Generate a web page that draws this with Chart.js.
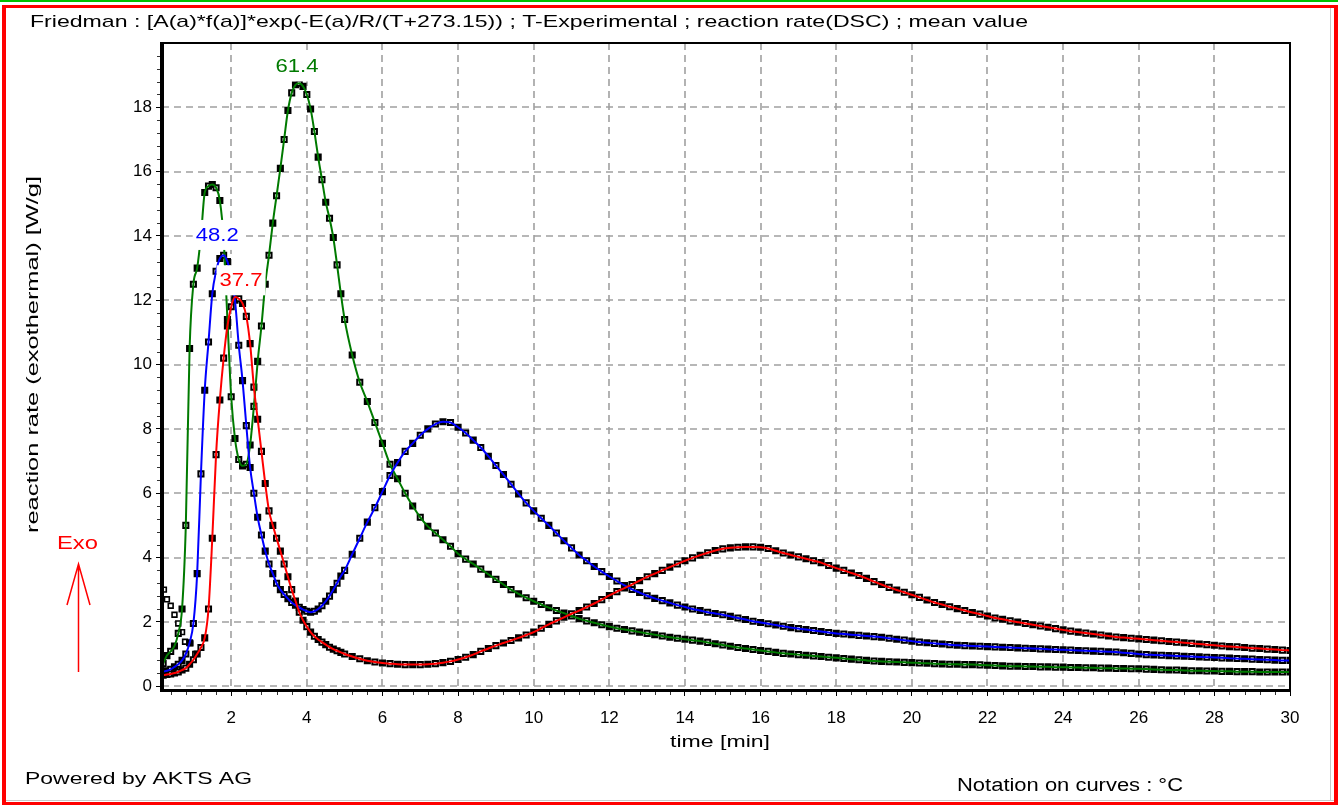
<!DOCTYPE html>
<html><head><meta charset="utf-8">
<script src="https://cdn.jsdelivr.net/npm/chart.js@4.4.0/dist/chart.umd.min.js"></script>
<style>html,body{margin:0;padding:0;background:#fff;overflow:hidden}#wrap{width:1338px;height:805px;position:relative}</style>
</head><body><div id="wrap"><canvas id="c" width="1338" height="805"></canvas></div>
<script>
// ---- data (time in min, reaction rate in W/g) ----
const timesEarly = [0.2,0.3,0.4,0.5,0.6,0.7,0.8,0.9,1.0,1.1,1.2,1.3,1.4,1.5,1.6,1.7,1.8,1.9,2.0,2.1,2.2,2.3,2.4,2.5,2.6,2.7,2.8,2.9,3.0,3.1,3.2,3.3,3.4,3.5,3.6,3.7,3.8,3.9,4.0,4.1,4.2,4.3,4.4,4.5,4.6,4.7,4.8,4.9];
const timesLate = [5.0,5.2,5.4,5.6,5.8,6.0,6.2,6.4,6.6,6.8,
  7.0,7.2,7.4,7.6,7.8,8.0,8.2,8.4,8.6,8.8,
  9.0,9.2,9.4,9.6,9.8,10.0,10.2,10.4,10.6,10.8,
  11.0,11.2,11.4,11.6,11.8,12.0,12.2,12.4,12.6,12.8,
  13.0,13.2,13.4,13.6,13.8,14.0,14.2,14.4,14.6,14.8,
  15.0,15.2,15.4,15.6,15.8,16.0,16.2,16.4,16.6,16.8,
  17.0,17.2,17.4,17.6,17.8,18.0,18.2,18.4,18.6,18.8,
  19.0,19.2,19.4,19.6,19.8,20.0,20.2,20.4,20.6,20.8,
  21.0,21.2,21.4,21.6,21.8,22.0,22.2,22.4,22.6,22.8,
  23.0,23.2,23.4,23.6,23.8,24.0,24.2,24.4,24.6,24.8,
  25.0,25.2,25.4,25.6,25.8,26.0,26.2,26.4,26.6,26.8,
  27.0,27.2,27.4,27.6,27.8,28.0,28.2,28.4,28.6,28.8,
  29.0,29.2,29.4,29.6,29.8,30.0];

// 37.7 °C (red)
const red377Early = [0.34,0.36,0.38,0.41,0.44,0.5,0.56,0.68,0.82,1.0,
  1.2,1.5,2.4,4.6,7.2,8.9,10.2,11.2,11.8,12.1,
  12.05,11.9,11.5,10.65,9.3,8.3,7.3,6.3,5.45,5.0,
  4.6,4.2,3.8,3.4,3.0,2.65,2.3,2.05,1.85,1.68,
  1.55,1.45,1.37,1.29,1.21,1.15,1.1,1.05];
const red377Late = [1.0,0.92,0.85,0.79,0.75,0.72,0.7,0.68,0.67,0.67,
  0.67,0.68,0.7,0.73,0.77,0.83,0.9,0.98,1.08,1.17,
  1.26,1.34,1.42,1.5,1.59,1.68,1.8,1.92,2.03,2.14,
  2.25,2.35,2.46,2.57,2.69,2.82,2.94,3.05,3.16,3.28,
  3.4,3.5,3.6,3.7,3.8,3.9,3.99,4.07,4.15,4.22,
  4.27,4.3,4.32,4.33,4.33,4.32,4.28,4.21,4.14,4.08,
  4.02,3.96,3.9,3.84,3.75,3.67,3.6,3.52,3.44,3.35,
  3.25,3.16,3.07,2.99,2.92,2.84,2.76,2.68,2.6,2.54,
  2.47,2.41,2.35,2.29,2.24,2.18,2.12,2.08,2.03,1.99,
  1.95,1.91,1.87,1.83,1.79,1.75,1.71,1.68,1.65,1.62,
  1.59,1.56,1.53,1.51,1.49,1.47,1.45,1.43,1.41,1.39,
  1.37,1.35,1.33,1.31,1.29,1.27,1.25,1.23,1.22,1.2,
  1.18,1.17,1.15,1.14,1.12,1.11];

// 48.2 °C (blue)
const blue482Early = [0.45,0.48,0.52,0.6,0.68,0.8,1.0,1.35,1.95,3.5,
  6.6,9.2,10.7,12.2,12.9,13.3,13.4,13.2,12.7,12.0,
  10.6,9.5,8.1,6.8,6.0,5.25,4.7,4.2,3.8,3.5,
  3.2,3.0,2.85,2.72,2.6,2.52,2.45,2.38,2.33,2.3,
  2.33,2.4,2.5,2.64,2.8,3.0,3.2,3.42];
const blue482Late = [3.6,4.1,4.6,5.1,5.55,6.05,6.55,6.95,7.3,7.55,
  7.8,8.0,8.15,8.22,8.2,8.05,7.87,7.65,7.42,7.15,
  6.86,6.58,6.28,5.98,5.7,5.45,5.22,5.0,4.76,4.52,
  4.3,4.08,3.9,3.72,3.56,3.41,3.27,3.13,3.01,2.91,
  2.81,2.73,2.66,2.59,2.52,2.46,2.4,2.35,2.3,2.26,
  2.22,2.17,2.12,2.07,2.02,1.98,1.94,1.9,1.86,1.82,
  1.79,1.76,1.73,1.7,1.67,1.64,1.62,1.6,1.58,1.56,
  1.54,1.52,1.49,1.46,1.43,1.4,1.37,1.35,1.33,1.31,
  1.29,1.27,1.26,1.25,1.24,1.23,1.22,1.21,1.2,1.19,
  1.18,1.17,1.16,1.15,1.14,1.13,1.12,1.11,1.1,1.09,
  1.08,1.07,1.06,1.04,1.02,1.0,0.98,0.97,0.96,0.95,
  0.94,0.93,0.92,0.91,0.9,0.89,0.88,0.87,0.86,0.85,
  0.84,0.83,0.82,0.81,0.8,0.8];

// 61.4 °C (green)
const green614Early = [0.7,0.95,1.08,1.25,1.64,2.4,5.0,10.5,12.5,13.0,
  14.0,15.35,15.55,15.6,15.5,15.1,13.9,11.4,9.0,7.7,
  7.05,6.85,6.9,7.5,8.7,10.1,11.2,12.5,13.4,14.4,
  15.25,16.1,17.0,17.9,18.45,18.7,18.75,18.65,18.4,17.95,
  17.25,16.45,15.75,15.05,14.55,13.95,13.1,12.2];
const green614Late = [11.4,10.3,9.45,8.85,8.2,7.55,6.9,6.45,6.0,5.6,
  5.25,4.97,4.76,4.55,4.35,4.12,3.95,3.8,3.64,3.48,
  3.32,3.16,3.0,2.87,2.75,2.64,2.54,2.44,2.35,2.27,
  2.18,2.1,2.03,1.97,1.91,1.85,1.8,1.76,1.72,1.68,
  1.64,1.6,1.56,1.52,1.49,1.46,1.43,1.4,1.36,1.32,
  1.28,1.24,1.2,1.17,1.14,1.11,1.08,1.05,1.02,1.0,
  0.98,0.96,0.94,0.92,0.9,0.88,0.86,0.84,0.82,0.8,
  0.78,0.77,0.76,0.75,0.74,0.73,0.72,0.71,0.7,0.69,
  0.68,0.68,0.67,0.67,0.66,0.65,0.64,0.63,0.62,0.62,
  0.61,0.61,0.6,0.6,0.59,0.59,0.58,0.58,0.57,0.57,
  0.56,0.56,0.55,0.55,0.54,0.54,0.53,0.52,0.51,0.5,
  0.5,0.49,0.48,0.48,0.47,0.47,0.46,0.46,0.45,0.45,
  0.45,0.44,0.44,0.44,0.44,0.44];

// extra experimental points at the very start
const expStartT = [0.22,0.3,0.4,0.5,0.6,0.7,0.78,0.92,1.05];
const expStartV = [3.0,2.7,2.5,2.22,1.95,1.68,1.38,1.33,1.0];

// curve annotations (°C)
const curveLabels = ['37.7','48.2','61.4'];
const curveLabelT = [2.26,1.63,3.74];
const curveLabelV = [12.59,14.0,19.24];
const curveColors = ['#ff0000','#0000ff','#007a00'];

// axes
const xTicks = [2,4,6,8,10,12,14,16,18,20,22,24,26,28,30];
const yTicks = [0,2,4,6,8,10,12,14,16,18];

// ---- build ----
const times = timesEarly.concat(timesLate);
const pts = (ts, vs) => ts.map((t, i) => ({x: t, y: vs[i]}));
const series = [
  red377Early.concat(red377Late),
  blue482Early.concat(blue482Late),
  green614Early.concat(green614Late)
];
const FONT = '"Liberation Sans", Arial, sans-serif';

const datasets = [];
series.forEach((vals, i) => {
  datasets.push({
    label: curveLabels[i], data: pts(times, vals), showLine: true,
    borderColor: curveColors[i], borderWidth: 2, pointRadius: 0,
    cubicInterpolationMode: 'monotone', order: 0
  });
});
series.forEach((vals, i) => {
  datasets.push({
    label: curveLabels[i] + ' exp', data: pts(times, vals), showLine: false,
    pointStyle: 'rect', pointRadius: 3.6, borderColor: '#000', borderWidth: 2,
    pointBackgroundColor: c => (c.dataIndex % 2 ? '#000' : '#fff'), order: 1
  });
});
datasets.push({
  label: 'exp start', data: pts(expStartT, expStartV), showLine: false,
  pointStyle: 'rect', pointRadius: 3.4, borderColor: '#000', borderWidth: 1.6,
  pointBackgroundColor: '#fff', order: 1
});

function fitText(ctx, txt, x, y, w, font, color) {
  ctx.save();
  ctx.font = font; ctx.fillStyle = color; ctx.textBaseline = 'middle'; ctx.textAlign = 'left';
  const m = ctx.measureText(txt).width;
  ctx.translate(x, y); ctx.scale(w / m, 1);
  ctx.fillText(txt, 0, 0);
  ctx.restore();
}

const deco = {
  id: 'deco',
  beforeDraw(chart) {
    const ctx = chart.ctx;
    ctx.save();
    ctx.fillStyle = '#fff'; ctx.fillRect(0, 0, 1338, 805);
    ctx.fillStyle = '#00c000'; ctx.fillRect(0, 0, 1338, 2);
    ctx.fillStyle = '#ff0000';
    ctx.fillRect(2, 5, 4, 800); ctx.fillRect(2, 5, 1336, 3);
    ctx.fillRect(1334, 5, 4, 800); ctx.fillRect(2, 802, 1336, 3);
    ctx.fillStyle = '#c8c8c8'; ctx.fillRect(6, 800, 1328, 1); ctx.fillRect(1330, 8, 1, 793);
    ctx.restore();
  },
  beforeDatasetsDraw(chart) {
    const ctx = chart.ctx, xs = chart.scales.x, ys = chart.scales.y, a = chart.chartArea;
    ctx.save();
    ctx.strokeStyle = '#a0a0a0'; ctx.lineWidth = 1.6; ctx.setLineDash([7, 5]);
    xTicks.forEach(v => {
      if (v >= 30) return;
      const px = Math.round(xs.getPixelForValue(v));
      ctx.beginPath(); ctx.moveTo(px, a.top); ctx.lineTo(px, a.bottom); ctx.stroke();
    });
    yTicks.forEach(v => {
      const py = Math.round(ys.getPixelForValue(v));
      ctx.beginPath(); ctx.moveTo(a.left, py); ctx.lineTo(a.right, py); ctx.stroke();
    });
    ctx.setLineDash([]);
    ctx.strokeStyle = '#333'; ctx.lineWidth = 1;
    for (let k = 1; k < 75; k++) {
      if (k % 5 === 0) continue;
      const px = Math.round(xs.getPixelForValue(k * 0.4)) + 0.5;
      ctx.beginPath(); ctx.moveTo(px, a.bottom); ctx.lineTo(px, a.bottom + 5); ctx.stroke();
    }
    for (let k = 1; k < 50; k++) {
      if (k % 5 === 0) continue;
      const py = Math.round(ys.getPixelForValue(k * 0.4)) + 0.5;
      ctx.beginPath(); ctx.moveTo(a.left - 5, py); ctx.lineTo(a.left, py); ctx.stroke();
    }
    ctx.restore();
  },
  afterDatasetsDraw(chart) {
    const ctx = chart.ctx, xs = chart.scales.x, ys = chart.scales.y, a = chart.chartArea;
    ctx.save();
    // curve labels with white boxes
    curveLabels.forEach((txt, i) => {
      const cx = xs.getPixelForValue(curveLabelT[i]);
      const cy = ys.getPixelForValue(curveLabelV[i]);
      const w = 43;
      ctx.fillStyle = '#fff';
      ctx.fillRect(cx - w / 2 - 3, cy - 16, w + 6, 30);
      fitText(ctx, txt, cx - w / 2, cy, w, '18px ' + FONT, curveColors[i]);
    });
    // plot frame
    ctx.fillStyle = '#000';
    ctx.fillRect(a.left - 2, a.top - 1, 4, a.bottom - a.top + 3);
    ctx.fillRect(a.left - 2, a.bottom - 1, a.right - a.left + 3, 3);
    ctx.fillRect(a.left, a.top - 1, a.right - a.left + 1, 2);
    ctx.fillRect(a.right - 1, a.top - 1, 2, a.bottom - a.top + 1);
    // texts
    fitText(ctx, 'Friedman : [A(a)*f(a)]*exp(-E(a)/R/(T+273.15)) ; T-Experimental ; reaction rate(DSC) ; mean value',
      30, 22, 998, '17px ' + FONT, '#000');
    fitText(ctx, 'time [min]', 670, 742, 100, '17px ' + FONT, '#000');
    fitText(ctx, 'Powered by AKTS AG', 25, 779, 227, '17px ' + FONT, '#000');
    fitText(ctx, 'Notation on curves : °C', 957, 786, 226, '18px ' + FONT, '#000');
    ctx.save();
    ctx.translate(34, 533); ctx.rotate(-Math.PI / 2);
    fitText(ctx, 'reaction rate (exothermal) [W/g]', 0, 0, 357, '16px ' + FONT, '#000');
    ctx.restore();
    // Exo arrow
    fitText(ctx, 'Exo', 57, 544, 41, '19px ' + FONT, '#ff0000');
    ctx.strokeStyle = '#ff0000'; ctx.lineWidth = 1.5;
    ctx.beginPath();
    ctx.moveTo(78.5, 672); ctx.lineTo(78.5, 564);
    ctx.moveTo(67, 605); ctx.lineTo(78.5, 564); ctx.lineTo(90, 605);
    ctx.stroke();
    ctx.restore();
  }
};

new Chart(document.getElementById('c'), {
  type: 'scatter',
  data: { datasets },
  options: {
    responsive: false, animation: false, devicePixelRatio: 1, events: [],
    layout: { padding: { left: 0, top: 43, right: 48, bottom: 0 } },
    plugins: { legend: { display: false }, tooltip: { enabled: false } },
    scales: {
      x: {
        type: 'linear', min: 0.17, max: 30,
        afterBuildTicks: s => { s.ticks = xTicks.map(v => ({ value: v })); },
        afterFit: s => { s.height = 115; },
        grid: { drawOnChartArea: false, drawTicks: true, tickLength: 6, tickColor: '#000', tickWidth: 1 },
        border: { display: false },
        ticks: { color: '#000', font: { family: FONT, size: 17 }, padding: 12, maxRotation: 0, autoSkip: false, callback: v => String(v) }
      },
      y: {
        type: 'linear', min: -0.12, max: 20,
        afterBuildTicks: s => { s.ticks = yTicks.map(v => ({ value: v })); },
        afterFit: s => { s.width = 162; },
        grid: { drawOnChartArea: false, drawTicks: true, tickLength: 6, tickColor: '#000', tickWidth: 1 },
        border: { display: false },
        ticks: { color: '#000', font: { family: FONT, size: 17 }, padding: 4, autoSkip: false, callback: v => String(v) }
      }
    }
  },
  plugins: [deco]
});
</script></body></html>
